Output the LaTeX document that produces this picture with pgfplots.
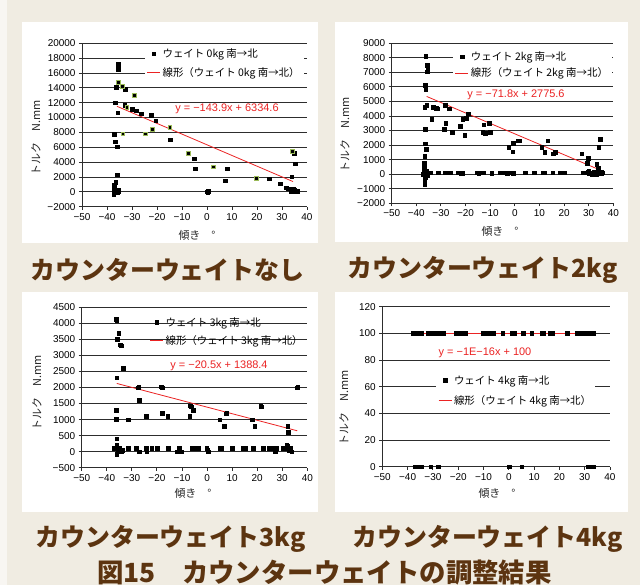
\documentclass[border=0pt]{standalone}
\usepackage{pgfplots}
\pgfplotsset{compat=1.18}
\usepackage{fontspec}
\setmainfont{Liberation Sans}
\newfontfamily\jp{Noto Sans CJK JP}
\definecolor{bg}{RGB}{240,236,226}
\definecolor{strip}{RGB}{248,246,242}
\definecolor{capbrown}{RGB}{92,52,16}
\definecolor{gridc}{RGB}{45,45,45}
\definecolor{eqred}{RGB}{235,35,35}
\definecolor{hlgreen}{RGB}{155,187,89}
\pgfplotsset{
  panel/.style={
    scale only axis, anchor=south west,
    axis lines*=left,
    axis line style={gridc, line width=0.9bp},
    ymajorgrids, major grid style={gridc, line width=0.9bp},
    tick align=outside, major tick length=3bp,
    tick style={gridc, line width=0.9bp},
    xmin=-50, xmax=40, xtick={-50,-40,...,40},
    xticklabels={−50,−40,−30,−20,−10,0,10,20,30,40},
    scaled y ticks=false, scaled x ticks=false,
    tick label style={font=\fontsize{10}{12}\selectfont},
    clip=false,
    legend cell align=left,
    legend style={draw=none, fill=white, font=\jp\fontsize{10.5}{12}\selectfont,
      inner xsep=2bp, inner ysep=1bp, anchor=west, row sep=3bp},
    legend image code/.code={\draw[mark repeat=2,mark phase=2,#1] plot coordinates {(0bp,0bp) (6.5bp,0bp) (13bp,0bp)};},
  },
  dots/.style={only marks, mark=square*, mark size=1.8bp, black},
  gdots/.style={only marks, mark=square*, mark size=1.9bp, mark options={fill=black, draw=hlgreen, line width=1bp}},
  trend/.style={eqred, line width=0.8bp, no marks},
}
\begin{document}
\begin{tikzpicture}
\useasboundingbox (0,0) rectangle (640bp,585bp);
\fill[bg] (0,0) rectangle (640bp,585bp);
\fill[strip] (0,0) rectangle (7bp,585bp);
\fill[white] (22bp,342bp) rectangle (318bp,563bp);
\fill[white] (335bp,343bp) rectangle (628bp,563bp);
\fill[white] (22bp,73bp) rectangle (318bp,293bp);
\fill[white] (335bp,73bp) rectangle (628bp,293bp);

% ---------- Panel 1 ----------
\begin{axis}[panel, at={(82bp,378.3bp)}, width=225bp, height=163.4bp,
  ymin=-2000, ymax=20000, ytick={-2000,0,...,20000},
  yticklabels={−2000,0,2000,4000,6000,8000,10000,12000,14000,16000,18000,20000},
  legend style={at={(0.278,0.878)}, row sep=5bp}]
\addplot[dots] table {
-35.6 17200
-35.6 16500
-36.3 14100
-32.7 13850
-36.7 12000
-32.9 11700
-29.9 11150
-28.3 10900
-26.3 10500
-22.3 10350
-20.5 9600
-35.7 10650
-37.2 7750
-14.8 7000
-36.7 6750
-36.0 6100
-5.2 4450
-4.7 3100
8.1 3100
7.2 1500
0.0 0
0.3 -100
0.4 50
24.8 1750
29.3 1100
31.7 550
32.5 400
33.9 2050
35.0 5200
35.2 3800
-35.9 2300
-36.5 1300
-37.2 900
-37.3 600
-37.2 300
-37.3 -300
-37.0 0
-36.6 -100
-35.6 200
-35.3 50
-36.0 -50
-35.4 100
34.2 100
34.8 300
35.0 0
35.5 150
36.0 100
35.8 0
34.5 400
33.5 100
};
\addlegendentry{ウェイト 0kg 南→北}
\addplot[gdots, forget plot] table {
-35.5 14750
-33.7 14200
-29.1 13000
-32.0 11400
-14.8 8700
-33.6 7800
-24.7 7800
-21.9 8350
-7.3 5200
2.7 3350
19.9 1850
34.3 5400
};
\addplot[trend] coordinates {(-36,11515) (34.4,1384)};
\addlegendentry{線形（ウェイト 0kg 南→北）}
\end{axis}

% ---------- Panel 2 ----------
\begin{axis}[panel, at={(391.7bp,381.7bp)}, width=221.6bp, height=160bp,
  ymin=-2000, ymax=9000, ytick={-2000,-1000,...,9000},
  yticklabels={−2000,−1000,0,1000,2000,3000,4000,5000,6000,7000,8000,9000},
  legend style={at={(0.276,0.864)}, row sep=2bp}]
\addplot[dots] table {
-36.2 8130
-35.5 7500
-35.4 7300
-35.5 7050
-36.5 6100
-36.2 5800
-36.6 4600
-35.8 4750
-36.3 3100
-36.3 2100
-36.1 1700
-36.6 1250
-36.7 750
-36.8 500
-36.6 -400
-36.6 -700
-36.8 200
-37.2 0
-36.0 100
-35.5 0
-35.3 -100
-36.5 -200
-34.8 100
-37.0 300
-36.2 -50
-35.8 250
-33.8 3800
-33.1 4600
-32.0 4550
-31.5 4500
-28.3 4750
-28.8 3100
-28.1 3500
-26.6 4500
-25.5 2900
-22.1 3300
-21.2 3800
-20.4 2700
-19.8 3850
-18.9 4150
-12.6 3400
-13.1 2900
-12.0 2800
-10.4 3500
-10.1 2900
-2.5 1850
-0.9 1550
-0.6 2150
1.2 2300
1.8 2300
10.9 1850
12.2 1500
13.3 2300
15.6 1400
16.4 1500
27.1 1400
29.7 1100
29.4 750
33.2 700
33.9 400
34.0 1850
34.8 2400
-34.4 100
-31.0 100
-28.3 100
-27.4 100
-26.3 100
-23.0 100
-22.0 50
-21.2 50
-15.5 100
-14.6 50
-12.8 100
-9.4 50
-6.0 100
-3.8 100
-3.0 50
-2.6 100
-0.6 50
4.1 100
7.8 100
11.6 100
12.2 100
15.4 100
18.3 100
19.1 100
20.0 100
27.8 100
28.6 100
29.8 150
30.2 50
30.5 100
31.2 100
32.1 150
32.9 100
33.6 150
34.3 100
35.0 50
35.3 150
30.0 250
31.5 0
33.0 0
35.5 100
};
\addlegendentry{ウェイト 2kg 南→北}
\addplot[trend] coordinates {(-35.8,5346) (34.8,277)};
\addlegendentry{線形（ウェイト 2kg 南→北）}
\end{axis}

% ---------- Panel 3 ----------
\begin{axis}[panel, at={(81.7bp,117.3bp)}, width=225.6bp, height=160.4bp,
  ymin=-500, ymax=4500, ytick={-500,0,...,4500},
  yticklabels={−500,0,500,1000,1500,2000,2500,3000,3500,4000,4500},
  legend style={at={(0.292,0.848)}, fill=none, row sep=4bp}]
\addplot[dots] table {
-36.0 4100
-36.3 4120
-35.2 3700
-35.9 3500
-34.3 3300
-34.6 3330
-33.5 2600
-36.0 2300
-36.3 1300
-36.0 1000
-36.3 1020
-31.4 1000
-36.0 400
-27.5 2000
-27.2 2020
-27.1 1600
-24.3 1100
-18.0 2000
-18.3 2020
-17.8 1200
-15.7 1100
-6.9 1100
-6.4 1400
-6.7 1430
-5.6 1300
5.1 1000
6.9 800
7.8 1200
7.5 1180
17.9 1000
19.0 800
21.7 1400
21.4 1420
32.2 800
32.4 600
35.9 2000
36.2 2020
31.8 200
32.2 170
32.6 100
-37.0 100
-36.0 200
-36.0 -80
-35.5 50
-35.1 100
-34.3 0
-33.6 50
-31.4 100
-28.3 100
-27.0 0
-24.3 100
-24.0 0
-22.0 100
-19.8 100
-15.4 100
-11.8 0
-11.0 100
-10.1 0
-6.1 100
-5.0 100
-3.5 100
-0.1 100
0.2 50
0.5 0
5.2 100
5.9 100
10.1 100
14.2 100
15.3 100
18.5 100
22.5 100
24.9 100
25.9 100
27.1 0
27.5 100
30.2 100
31.4 100
33.1 100
33.8 0
32.8 50
};
\addlegendentry{ウェイト 3kg 南→北}
\addplot[trend] coordinates {(-36,2126.4) (36,650.4)};
\addlegendentry{線形（ウェイト 3kg 南→北）}
\end{axis}

% ---------- Panel 4 ----------
\begin{axis}[panel, at={(382.3bp,118.3bp)}, width=227.7bp, height=160bp,
  ymin=0, ymax=120, ytick={0,20,...,120},
  yticklabels={0,20,40,60,80,100,120},
  legend style={at={(0.236,0.475)}, row sep=6bp}]
\addplot[dots] table {
-37.7 100
-37.0 100
-36.2 100
-35.5 100
-34.5 100
-31.8 100
-30.1 100
-29.2 100
-28.5 100
-27.9 100
-25.9 100
-20.9 100
-20.0 100
-19.0 100
-18.0 100
-17.3 100
-10.3 100
-9.4 100
-8.4 100
-7.2 100
-6.1 100
-2.4 100
1.1 100
2.4 100
5.7 100
9.0 100
13.0 100
13.6 100
16.3 100
17.3 100
23.1 100
26.8 100
27.8 100
28.8 100
30.5 100
31.2 100
32.0 100
32.8 100
33.4 100
-37.1 0
-36.2 0
-34.5 0
-30.8 0
-27.9 0
0.2 0
5.1 0
31.2 0
31.8 0
32.5 0
33.4 0
};
\addlegendentry{ウェイト 4kg 南→北}
\addplot[trend] coordinates {(-35.1,100) (33.4,100)};
\addlegendentry{線形（ウェイト 4kg 南→北）}
\end{axis}

% ---------- equations ----------
\begin{scope}[every node/.style={text=eqred, font=\fontsize{11}{13}\selectfont, inner sep=0pt}]
\node at (227bp,476bp) {y = −143.9x + 6334.6};
\node at (516bp,490bp) {y = −71.8x + 2775.6};
\node at (219bp,219bp) {y = −20.5x + 1388.4};
\node at (485bp,232bp) {y = −1E−16x + 100};
\end{scope}

% ---------- axis titles ----------
\begin{scope}[every node/.style={font=\jp\fontsize{11}{13}\selectfont, inner sep=0pt, text=black!85}]
\node at (197bp,350bp) {傾き　°};
\node at (500bp,354bp) {傾き　°};
\node at (193bp,92bp) {傾き　°};
\node at (497bp,92bp) {傾き　°};
\node[rotate=90] at (36bp,447bp) {トルク　N.mm};
\node[rotate=90] at (345bp,450bp) {トルク　N.mm};
\node[rotate=90] at (37bp,192bp) {トルク　N.mm};
\node[rotate=90] at (344bp,177bp) {トルク　N.mm};
\end{scope}

% ---------- captions ----------
\begin{scope}[every node/.style={font=\jp\bfseries\fontsize{25}{28}\selectfont, inner sep=0pt, text=capbrown}]
\node at (167.5bp,315bp) {カウンターウェイトなし};
\node at (482.5bp,315bp) {カウンターウェイト2kg};
\node at (170.5bp,46.5bp) {カウンターウェイト3kg};
\node at (487.5bp,46.5bp) {カウンターウェイト4kg};
\node[font=\jp\bfseries\fontsize{26.5}{30}\selectfont] at (324.5bp,12bp) {図15　カウンターウェイトの調整結果};
\end{scope}
\end{tikzpicture}
\end{document}
